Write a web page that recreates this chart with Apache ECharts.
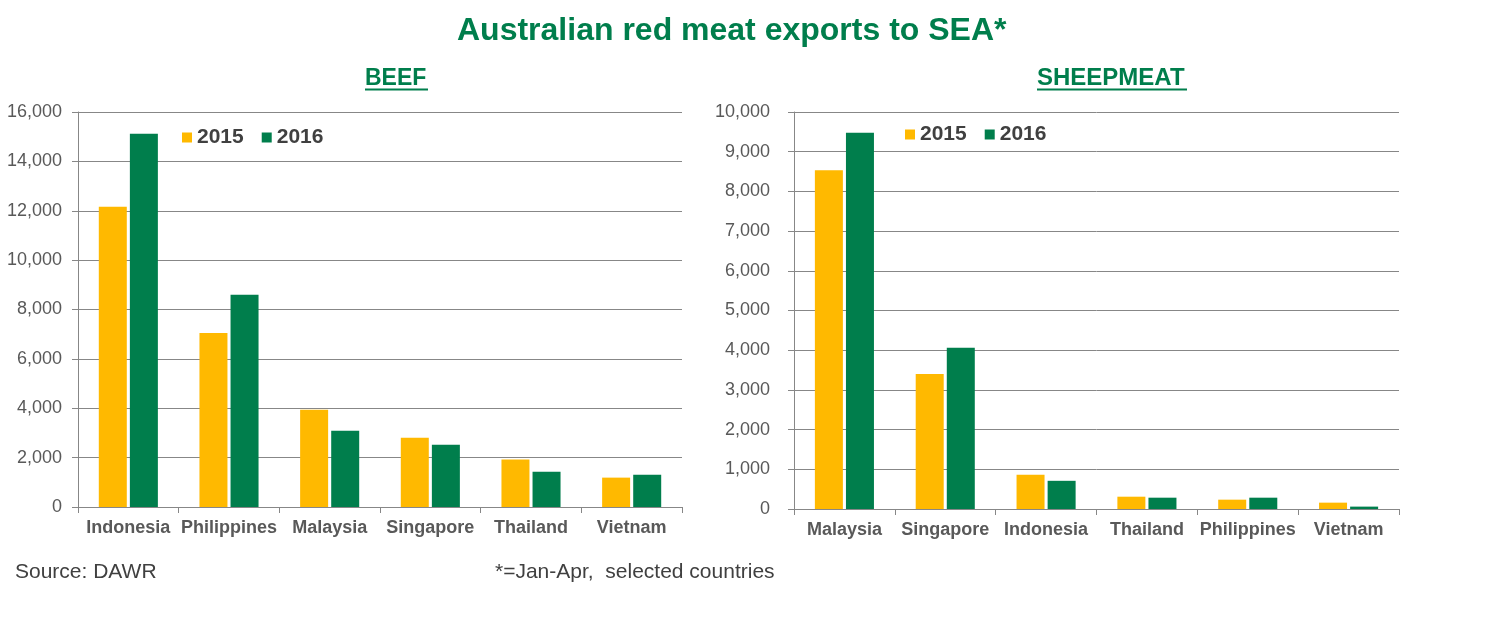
<!DOCTYPE html>
<html>
<head>
<meta charset="utf-8">
<script src="https://cdn.jsdelivr.net/npm/echarts@6/dist/echarts.min.js"></script>
<style>
  html, body { margin: 0; padding: 0; background: #fff; }
  #main { width: 1490px; height: 643px; }
</style>
</head>
<body>
<div id="main"></div>
<script>
// 牛肉出口 (BEEF)
var beefCountries = ['Indonesia', 'Philippines', 'Malaysia', 'Singapore', 'Thailand', 'Vietnam'];
var beef2015 = [12160, 7050, 3940, 2810, 1920, 1190];
var beef2016 = [15120, 8600, 3090, 2520, 1430, 1310];

// 羊肉出口 (SHEEPMEAT)
var sheepCountries = ['Malaysia', 'Singapore', 'Indonesia', 'Thailand', 'Philippines', 'Vietnam'];
var sheep2015 = [8530, 3400, 860, 310, 235, 160];
var sheep2016 = [9480, 4060, 710, 285, 285, 60];

var years = ['2015', '2016'];

var GOLD = '#FFB900';
var GREEN = '#007E4C';
var FONT = "'Liberation Sans', Arial, sans-serif";
var GRIDLINE = '#878787';

function thousands(v){
    return Number(v).toLocaleString('en-US');
}

function valueAxis(idx, max, interval, margin){
    return {
        type: 'value',
        gridIndex: idx,
        min: 0,
        max: max,
        interval: interval,
        axisLine: { show: true, lineStyle: { color: GRIDLINE, width: 1 } },
        axisTick: { show: true, length: 6, lineStyle: { color: GRIDLINE } },
        splitLine: { show: true, lineStyle: { color: GRIDLINE, width: 1 } },
        axisLabel: {
            margin: margin,
            color: '#595959',
            fontSize: 18,
            fontFamily: FONT,
            formatter: thousands
        }
    };
}

function catAxis(idx, data){
    return {
        type: 'category',
        gridIndex: idx,
        data: data,
        axisLine: { show: true, lineStyle: { color: GRIDLINE, width: 1 } },
        axisTick: { show: true, length: 6, lineStyle: { color: GRIDLINE } },
        axisLabel: {
            margin: 12,
            color: '#595959',
            fontSize: 18,
            fontWeight: 'bold',
            fontFamily: FONT,
            interval: 0
        }
    };
}

function bars(name, idx, data, color){
    return {
        name: name,
        type: 'bar',
        xAxisIndex: idx,
        yAxisIndex: idx,
        data: data,
        barWidth: 28,
        barGap: '11%',
        itemStyle: { color: color },
        animation: false
    };
}

function legendAt(left, top){
    return {
        data: years,
        left: left,
        top: top,
        padding: 0,
        itemWidth: 10,
        itemHeight: 10,
        itemGap: 18,
        icon: 'rect',
        textStyle: { color: '#404040', fontSize: 21, fontWeight: 'bold', fontFamily: FONT }
    };
}

var chart = echarts.init(document.getElementById('main'));
var option = {
    backgroundColor: '#fff',
    animation: false,
    title: [
        {
            text: 'Australian red meat exports to SEA*',
            left: 457, top: 15, padding: 0,
            textStyle: { color: GREEN, fontSize: 32, fontWeight: 'bold', fontFamily: FONT }
        },
        {
            text: 'BEEF',
            left: 365, top: 67, padding: 0,
            textStyle: { color: GREEN, fontSize: 23, fontWeight: 'bold', fontFamily: FONT }
        },
        {
            text: 'SHEEPMEAT',
            left: 1037, top: 66, padding: 0,
            textStyle: { color: GREEN, fontSize: 24, fontWeight: 'bold', fontFamily: FONT }
        },
        {
            text: 'Source: DAWR',
            left: 15, top: 562, padding: 0,
            textStyle: { color: '#404040', fontSize: 21, fontWeight: 'normal', fontFamily: FONT }
        },
        {
            text: '*=Jan-Apr,  selected countries',
            left: 495, top: 562, padding: 0,
            textStyle: { color: '#404040', fontSize: 21, fontWeight: 'normal', fontFamily: FONT }
        }
    ],
    legend: [legendAt(182, 127), legendAt(905, 124)],
    grid: [
        { left: 78, top: 112, width: 604, height: 395 },
        { left: 794, top: 112, width: 605, height: 397 }
    ],
    xAxis: [catAxis(0, beefCountries), catAxis(1, sheepCountries)],
    yAxis: [valueAxis(0, 16000, 2000, 16), valueAxis(1, 10000, 1000, 24)],
    series: [
        bars('2015', 0, beef2015, GOLD),
        bars('2016', 0, beef2016, GREEN),
        bars('2015', 1, sheep2015, GOLD),
        bars('2016', 1, sheep2016, GREEN)
    ],
    graphic: [
        //标题下划线
        { type: 'line', shape: { x1: 365, y1: 89.5, x2: 428, y2: 89.5 }, style: { stroke: GREEN, lineWidth: 2 } },
        { type: 'line', shape: { x1: 1037, y1: 89.5, x2: 1187, y2: 89.5 }, style: { stroke: GREEN, lineWidth: 2 } }
    ]
};
chart.setOption(option, true);
</script>
</body>
</html>
